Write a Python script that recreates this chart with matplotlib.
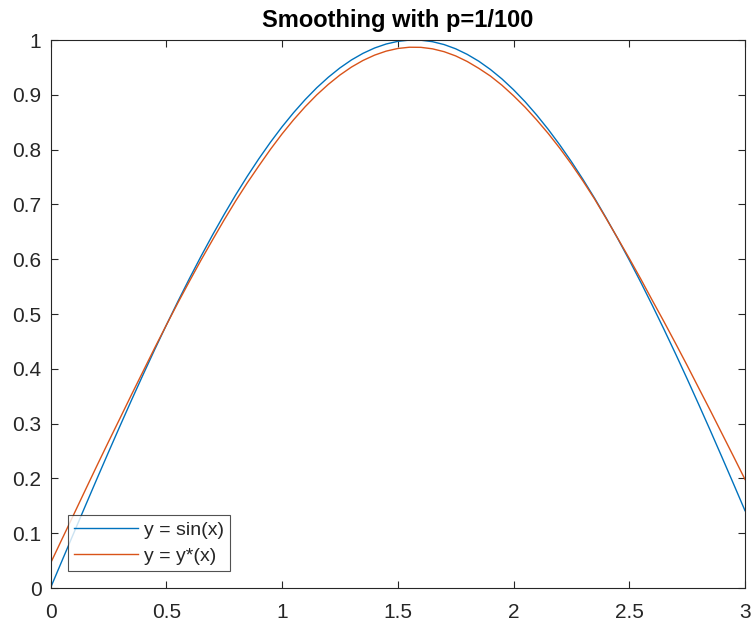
import matplotlib
matplotlib.use("Agg")
import matplotlib.pyplot as plt

x_vals = [0.00, 0.05, 0.10, 0.15, 0.20, 0.25, 0.30, 0.35, 0.40, 0.45, 0.50,
          0.55, 0.60, 0.65, 0.70, 0.75, 0.80, 0.85, 0.90, 0.95, 1.00,
          1.05, 1.10, 1.15, 1.20, 1.25, 1.30, 1.35, 1.40, 1.45, 1.50,
          1.55, 1.60, 1.65, 1.70, 1.75, 1.80, 1.85, 1.90, 1.95, 2.00,
          2.05, 2.10, 2.15, 2.20, 2.25, 2.30, 2.35, 2.40, 2.45, 2.50,
          2.55, 2.60, 2.65, 2.70, 2.75, 2.80, 2.85, 2.90, 2.95, 3.00]
sin_vals = [0.0000, 0.0500, 0.0998, 0.1494, 0.1987, 0.2474, 0.2955, 0.3429, 0.3894, 0.4350, 0.4794,
            0.5227, 0.5646, 0.6052, 0.6442, 0.6816, 0.7174, 0.7513, 0.7833, 0.8134, 0.8415,
            0.8674, 0.8912, 0.9128, 0.9320, 0.9490, 0.9636, 0.9757, 0.9854, 0.9927, 0.9975,
            0.9998, 0.9996, 0.9969, 0.9917, 0.9840, 0.9738, 0.9613, 0.9463, 0.9290, 0.9093,
            0.8874, 0.8632, 0.8369, 0.8085, 0.7781, 0.7457, 0.7115, 0.6755, 0.6378, 0.5985,
            0.5577, 0.5155, 0.4720, 0.4274, 0.3817, 0.3350, 0.2875, 0.2392, 0.1904, 0.1411]
smooth_vals = [0.0450, 0.0895, 0.1338, 0.1784, 0.2227, 0.2664, 0.3095, 0.3529, 0.3954, 0.4380, 0.4794,
               0.5202, 0.5596, 0.5982, 0.6352, 0.6716, 0.7064, 0.7393, 0.7703, 0.8004, 0.8285,
               0.8544, 0.8782, 0.8998, 0.9190, 0.9360, 0.9506, 0.9627, 0.9724, 0.9797, 0.9845,
               0.9868, 0.9866, 0.9839, 0.9787, 0.9710, 0.9608, 0.9483, 0.9343, 0.9175, 0.8983,
               0.8774, 0.8542, 0.8294, 0.8025, 0.7736, 0.7427, 0.7100, 0.6745, 0.6383, 0.6015,
               0.5637, 0.5245, 0.4860, 0.4464, 0.4062, 0.3650, 0.3240, 0.2822, 0.2404, 0.1981]

x_ticks = [0, 0.5, 1, 1.5, 2, 2.5, 3]
x_tick_labels = ["0", "0.5", "1", "1.5", "2", "2.5", "3"]
y_ticks = [0, 0.1, 0.2, 0.3, 0.4, 0.5, 0.6, 0.7, 0.8, 0.9, 1]
y_tick_labels = ["0", "0.1", "0.2", "0.3", "0.4", "0.5", "0.6", "0.7", "0.8", "0.9", "1"]
title = "Smoothing with p=1/100"
labels = ["y = sin(x)", "y = y*(x)"]

plt.rcParams['font.family'] = ['Liberation Sans', 'DejaVu Sans']

fig = plt.figure(figsize=(7.52, 6.23), dpi=100)
ax = fig.add_axes([50.5 / 752, 35 / 623, (745 - 50.5) / 752, 548 / 623])

ax.plot(x_vals, sin_vals, color='#0072BD', lw=1.0, label=labels[0])
ax.plot(x_vals, smooth_vals, color='#D95319', lw=1.0, label=labels[1])

ax.set_xlim(0, 3)
ax.set_ylim(0, 1)
ax.set_xticks(x_ticks)
ax.set_xticklabels(x_tick_labels)
ax.set_yticks(y_ticks)
ax.set_yticklabels(y_tick_labels)

axis_col = '#262626'
for s in ax.spines.values():
    s.set_color(axis_col)
    s.set_linewidth(0.8)
ax.tick_params(axis='both', direction='in', length=5, width=0.8, color=axis_col,
               labelcolor=axis_col, labelsize=15, top=True, right=True)
ax.tick_params(axis='x', pad=11)
ax.tick_params(axis='y', pad=6.5)

ax.set_title(title, fontsize=17, fontweight='bold', pad=9, color='black')

leg = ax.legend(loc='lower left', bbox_to_anchor=(0.025, 0.031), borderaxespad=0,
                fontsize=14, frameon=True, fancybox=False, handlelength=3.3,
                handletextpad=0.3, borderpad=0.3, labelspacing=0.45)
leg.get_frame().set_edgecolor(axis_col)
leg.get_frame().set_linewidth(0.8)
for t in leg.get_texts():
    t.set_color(axis_col)

fig.savefig("out.png", dpi=100)
